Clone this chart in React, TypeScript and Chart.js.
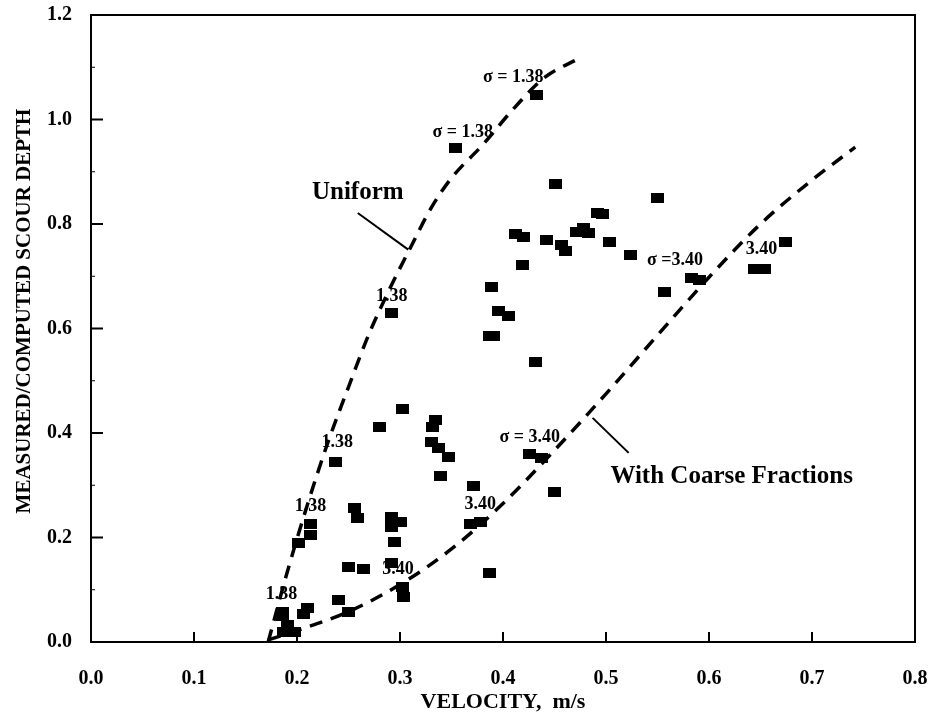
import React, { useEffect, useRef } from "react";
import { Chart, registerables } from "chart.js";

Chart.register(...registerables);

// Measured data points (velocity m/s, measured/computed scour depth)
const velocity = [
  0.433, 0.354, 0.451, 0.550, 0.492, 0.497, 0.412, 0.420, 0.442, 0.457,
  0.461, 0.471, 0.478, 0.483, 0.503, 0.524, 0.419, 0.557, 0.583, 0.591,
  0.644, 0.654, 0.674, 0.389, 0.396, 0.405, 0.387, 0.391, 0.432, 0.292,
  0.302, 0.280, 0.237, 0.334, 0.332, 0.331, 0.337, 0.347, 0.339, 0.371,
  0.426, 0.437, 0.450, 0.368, 0.378, 0.387, 0.256, 0.259, 0.292, 0.300,
  0.292, 0.295, 0.250, 0.265, 0.292, 0.240, 0.250, 0.303, 0.302, 0.213,
  0.213, 0.201, 0.210, 0.206, 0.186, 0.191, 0.187, 0.198, 0.186,
];
const depthRatio = [
  1.047, 0.946, 0.877, 0.850, 0.821, 0.819, 0.781, 0.775, 0.769, 0.760,
  0.749, 0.785, 0.793, 0.783, 0.766, 0.741, 0.721, 0.670, 0.697, 0.693,
  0.714, 0.714, 0.766, 0.680, 0.634, 0.624, 0.586, 0.586, 0.535, 0.630,
  0.445, 0.412, 0.345, 0.425, 0.412, 0.383, 0.372, 0.355, 0.317, 0.299,
  0.359, 0.353, 0.288, 0.225, 0.229, 0.133, 0.257, 0.238, 0.240, 0.230,
  0.221, 0.192, 0.144, 0.139, 0.152, 0.081, 0.058, 0.087, 0.106, 0.225,
  0.204, 0.190, 0.066, 0.053, 0.049, 0.033, 0.020, 0.020, 0.058,
];

// Computed curves
const uniformV = [0.172, 0.190, 0.210, 0.230, 0.250, 0.270, 0.290, 0.310, 0.330, 0.350, 0.380, 0.410, 0.440, 0.475];
const uniformR = [0.000, 0.130, 0.262, 0.382, 0.488, 0.590, 0.676, 0.754, 0.830, 0.888, 0.951, 1.020, 1.080, 1.118];
const coarseV = [0.172, 0.200, 0.250, 0.300, 0.350, 0.400, 0.450, 0.500, 0.550, 0.600, 0.650, 0.700, 0.742];
const coarseR = [0.004, 0.022, 0.058, 0.110, 0.178, 0.265, 0.367, 0.475, 0.587, 0.698, 0.800, 0.884, 0.947];

// Axis ticks
const xTickValues = [0, 0.1, 0.2, 0.3, 0.4, 0.5, 0.6, 0.7, 0.8];
const xTickLabels = ["0.0", "0.1", "0.2", "0.3", "0.4", "0.5", "0.6", "0.7", "0.8"];
const yTickValues = [0, 0.2, 0.4, 0.6, 0.8, 1.0, 1.2];
const yTickLabels = ["0.0", "0.2", "0.4", "0.6", "0.8", "1.0", "1.2"];
const yMinorValues = [0.1, 0.3, 0.5, 0.7, 0.9, 1.1];

// Small annotations (text, at data coords)
const noteTexts = ["σ = 1.38", "σ = 1.38", "1.38", "1.38", "1.38", "1.38", "σ =3.40", "3.40", "σ = 3.40", "3.40", "3.40"];
const noteV = [0.410, 0.361, 0.292, 0.239, 0.213, 0.185, 0.567, 0.651, 0.426, 0.378, 0.298];
const noteR = [1.080, 0.976, 0.661, 0.382, 0.259, 0.091, 0.731, 0.751, 0.391, 0.263, 0.139];

// Curve labels with leader lines
const curveNames = ["Uniform", "With Coarse Fractions"];
const curveNameV = [0.259, 0.622];
const curveNameR = [0.860, 0.317];
const leaderFromV = [0.259, 0.487];
const leaderFromR = [0.821, 0.429];
const leaderToV = [0.308, 0.522];
const leaderToR = [0.751, 0.362];

const FONT = '"Liberation Serif", "Times New Roman", serif';

function makeMarker(): HTMLCanvasElement {
  const c = document.createElement("canvas");
  c.width = 13;
  c.height = 10;
  const g = c.getContext("2d")!;
  g.fillStyle = "#000";
  g.fillRect(0, 0, 13, 10);
  return c;
}

const framePlugin = {
  id: "frame",
  afterDraw(chart: any) {
    const { ctx, chartArea, scales } = chart;
    const { left, right, top, bottom } = chartArea;
    const x = scales.x;
    const y = scales.y;
    ctx.save();
    ctx.strokeStyle = "#000";
    ctx.lineWidth = 2;
    ctx.strokeRect(left, top, right - left, bottom - top);
    ctx.beginPath();
    xTickValues.forEach((v) => {
      const px = x.getPixelForValue(v);
      ctx.moveTo(px, bottom);
      ctx.lineTo(px, bottom - 10);
    });
    yTickValues.forEach((v) => {
      const py = y.getPixelForValue(v);
      ctx.moveTo(left, py);
      ctx.lineTo(left + 12, py);
    });
    ctx.stroke();
    ctx.lineWidth = 1;
    ctx.beginPath();
    yMinorValues.forEach((v) => {
      const py = y.getPixelForValue(v);
      ctx.moveTo(left, py);
      ctx.lineTo(left + 4, py);
    });
    ctx.stroke();

    // y axis title
    ctx.fillStyle = "#000";
    ctx.font = `bold 21px ${FONT}`;
    ctx.textAlign = "center";
    ctx.textBaseline = "middle";
    ctx.translate(25, 311);
    ctx.rotate(-Math.PI / 2);
    ctx.fillText("MEASURED/COMPUTED SCOUR DEPTH", 0, 0);
    ctx.restore();
  },
  afterDatasetsDraw(chart: any) {
    const { ctx, scales } = chart;
    const x = scales.x;
    const y = scales.y;
    ctx.save();
    ctx.fillStyle = "#000";
    ctx.strokeStyle = "#000";
    ctx.textAlign = "center";
    ctx.textBaseline = "middle";
    ctx.font = `bold 18px ${FONT}`;
    noteTexts.forEach((t, i) => {
      ctx.fillText(t, x.getPixelForValue(noteV[i]), y.getPixelForValue(noteR[i]));
    });
    ctx.font = `bold 25px ${FONT}`;
    curveNames.forEach((t, i) => {
      ctx.fillText(t, x.getPixelForValue(curveNameV[i]), y.getPixelForValue(curveNameR[i]));
    });
    ctx.lineWidth = 2;
    ctx.beginPath();
    curveNames.forEach((_, i) => {
      ctx.moveTo(x.getPixelForValue(leaderFromV[i]), y.getPixelForValue(leaderFromR[i]));
      ctx.lineTo(x.getPixelForValue(leaderToV[i]), y.getPixelForValue(leaderToR[i]));
    });
    ctx.stroke();
    ctx.restore();
  },
};

export default function App() {
  const ref = useRef<HTMLCanvasElement | null>(null);
  useEffect(() => {
    if (!ref.current) return;
    const marker = makeMarker();
    const chart = new Chart(ref.current, {
      type: "scatter",
      data: {
        datasets: [
          {
            label: "Uniform",
            type: "line",
            data: uniformV.map((v, i) => ({ x: v, y: uniformR[i] })),
            borderColor: "#000",
            borderWidth: 3.5,
            borderDash: [13, 9],
            pointRadius: 0,
            cubicInterpolationMode: "monotone",
            fill: false,
          } as any,
          {
            label: "With Coarse Fractions",
            type: "line",
            data: coarseV.map((v, i) => ({ x: v, y: coarseR[i] })),
            borderColor: "#000",
            borderWidth: 3.5,
            borderDash: [13, 9],
            pointRadius: 0,
            cubicInterpolationMode: "monotone",
            fill: false,
          } as any,
          {
            label: "Measured",
            data: velocity.map((v, i) => ({ x: v, y: depthRatio[i] })),
            pointStyle: marker as any,
            pointRadius: 6,
            backgroundColor: "#000",
            borderColor: "#000",
          },
        ],
      },
      options: {
        animation: false,
        responsive: false,
        maintainAspectRatio: false,
        layout: { padding: { top: 15, right: 15, left: 0, bottom: 0 } },
        plugins: { legend: { display: false }, tooltip: { enabled: false } },
        scales: {
          x: {
            type: "linear",
            min: 0,
            max: 0.8,
            afterFit: (s: any) => { s.height = 75; s.paddingLeft = 0; s.paddingRight = 0; },
            afterBuildTicks: (s: any) => { s.ticks = xTickValues.map((v) => ({ value: v })); },
            grid: { display: false },
            border: { display: true, color: "#000", width: 2 },
            ticks: {
              color: "#000",
              padding: 17,
              font: { family: FONT, size: 20, weight: "bold" },
              callback: (v: any) => xTickLabels[xTickValues.findIndex((t) => Math.abs(t - v) < 1e-6)] ?? "",
              maxRotation: 0,
            },
            title: {
              display: true,
              text: "VELOCITY,  m/s",
              color: "#000",
              font: { family: FONT, size: 22, weight: "bold" },
              padding: { top: 0, bottom: 1 },
            },
          },
          y: {
            type: "linear",
            min: 0,
            max: 1.2,
            afterFit: (s: any) => { s.width = 91; s.paddingTop = 0; s.paddingBottom = 0; },
            afterBuildTicks: (s: any) => { s.ticks = yTickValues.map((v) => ({ value: v })); },
            grid: { display: false },
            border: { display: true, color: "#000", width: 2 },
            ticks: {
              color: "#000",
              padding: 11,
              font: { family: FONT, size: 20, weight: "bold" },
              callback: (v: any) => yTickLabels[yTickValues.findIndex((t) => Math.abs(t - v) < 1e-6)] ?? "",
            },
          },
        },
      },
      plugins: [framePlugin],
    });
    return () => chart.destroy();
  }, []);
  return (
    <div style={{ position: "fixed", left: 0, top: 0, width: 930, height: 717, background: "#fff" }}>
      <canvas ref={ref} width={930} height={717} style={{ width: 930, height: 717 }} />
    </div>
  );
}
